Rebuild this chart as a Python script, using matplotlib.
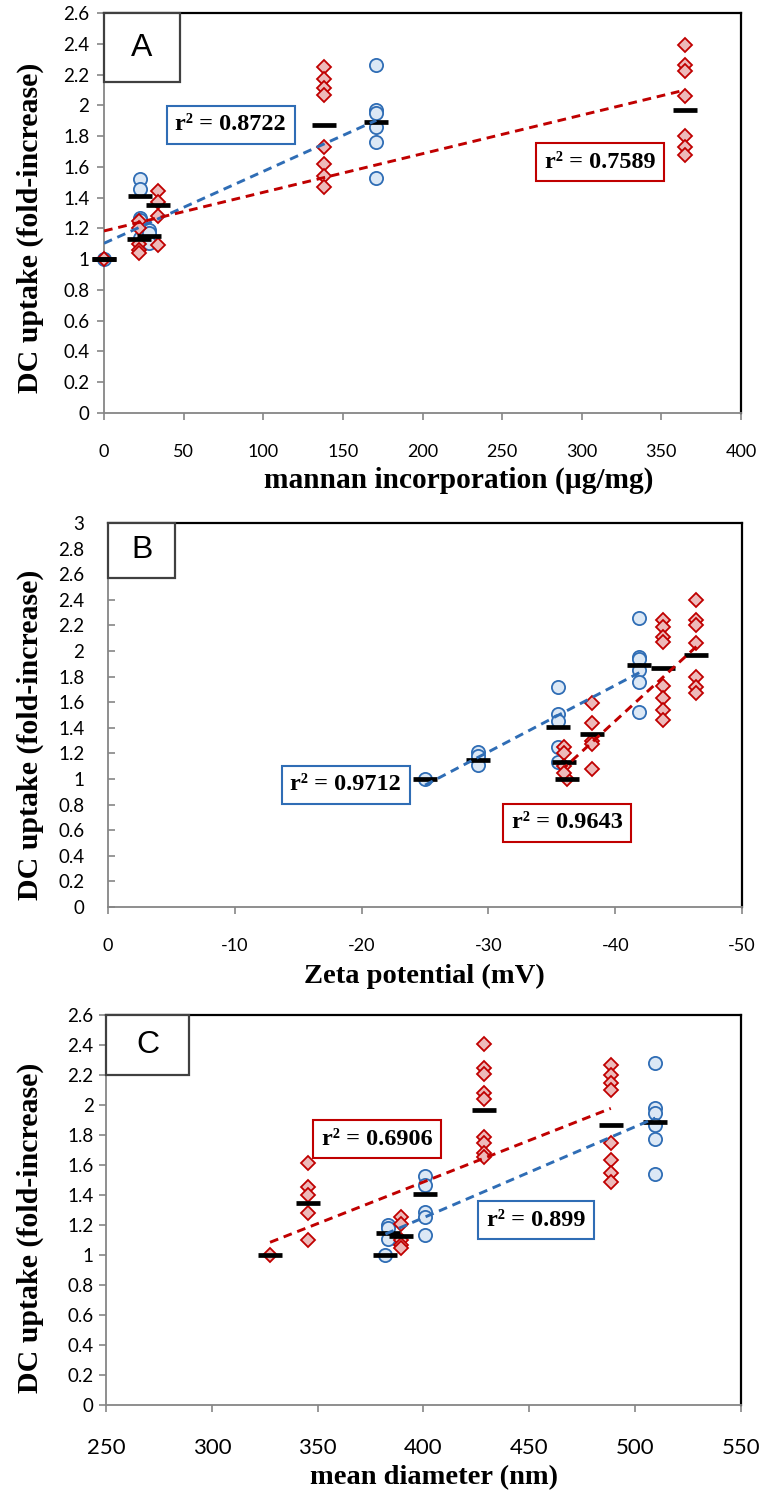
import matplotlib

matplotlib.use("Agg")
import matplotlib.pyplot as plt
import numpy as np
from matplotlib.patches import Rectangle
from matplotlib.ticker import FuncFormatter, MultipleLocator

plt.rcParams["font.family"] = ["Lato", "DejaVu Sans"]
plt.rcParams["axes.unicode_minus"] = False

BLUE = "#2F6DB5"
BLUE_FACE = "#DCE8F5"
RED = "#C00000"
RED_FACE = "#EDBABA"
GREY = "#868686"

# ---- panel A: mannan incorporation (ug/mg) ----
A_BLUE_X = [0, 22.6, 28.5, 171]
A_BLUE_Y = [[1.0], [1.52, 1.455, 1.27, 1.255, 1.136], [1.19, 1.17, 1.107],
            [2.26, 1.97, 1.95, 1.86, 1.76, 1.53]]
A_BLUE_MEAN = [1.0, 1.41, 1.15, 1.89]
A_RED_X = [0, 22, 34, 138, 365]
A_RED_Y = [[1.0], [1.25, 1.2, 1.1, 1.06, 1.04], [1.44, 1.37, 1.28, 1.09],
           [2.25, 2.17, 2.11, 2.07, 1.73, 1.62, 1.54, 1.47],
           [2.39, 2.26, 2.22, 2.06, 1.80, 1.73, 1.68]]
A_RED_MEAN = [1.0, 1.13, 1.35, 1.87, 1.97]
A_R2 = ["0.8722", "0.7589"]

# ---- panel B: zeta potential (mV) ----
B_BLUE_X = [-25.0, -29.2, -35.5, -41.9]
B_BLUE_Y = [[1.0], [1.21, 1.18, 1.11], [1.72, 1.51, 1.45, 1.25, 1.135],
            [2.255, 1.955, 1.94, 1.85, 1.76, 1.52]]
B_BLUE_MEAN = [1.0, 1.15, 1.41, 1.89]
B_RED_X = [-36.2, -36.0, -38.2, -43.8, -46.4]
B_RED_Y = [[1.0], [1.25, 1.20, 1.10, 1.045], [1.59, 1.44, 1.30, 1.27, 1.08],
           [2.24, 2.185, 2.11, 2.07, 1.73, 1.63, 1.54, 1.46],
           [2.40, 2.24, 2.20, 2.06, 1.80, 1.72, 1.67]]
B_RED_MEAN = [1.0, 1.13, 1.35, 1.87, 1.97]
B_R2 = ["0.9712", "0.9643"]

# ---- panel C: mean diameter (nm) ----
C_BLUE_X = [382, 383, 400.5, 509.5]
C_BLUE_Y = [[1.0], [1.20, 1.178, 1.11], [1.527, 1.467, 1.289, 1.255, 1.133],
            [2.278, 1.978, 1.95, 1.867, 1.771, 1.54]]
C_BLUE_MEAN = [1.0, 1.15, 1.41, 1.89]
C_RED_X = [327.5, 345.5, 389.5, 428.5, 488.5]
C_RED_Y = [[1.0], [1.615, 1.455, 1.40, 1.278, 1.10], [1.255, 1.21, 1.10, 1.067, 1.047],
           [2.41, 2.25, 2.21, 2.08, 2.04, 1.79, 1.745, 1.68, 1.655],
           [2.267, 2.2, 2.144, 2.1, 1.745, 1.633, 1.545, 1.489]]
C_RED_MEAN = [1.0, 1.35, 1.13, 1.97, 1.87]
C_R2 = ["0.899", "0.6906"]

YLABEL = "DC uptake (fold-increase)"
XLABELS = ["mannan incorporation (µg/mg)", "Zeta potential (mV)", "mean diameter (nm)"]

W, H = 759, 1491
fig = plt.figure(figsize=(W / 100, H / 100), dpi=100)


def px_axes(left, top, right, bottom):
    return fig.add_axes([left / W, 1 - bottom / H, (right - left) / W, (bottom - top) / H])


def groups(ax, xs, ys, marker, ms, face, edge):
    gx = np.concatenate([np.full(len(g), x) for x, g in zip(xs, ys)])
    gy = np.concatenate(ys)
    ax.plot(gx, gy, ls="none", marker=marker, ms=ms, mfc=face, mec=edge, mew=1.3,
            clip_on=False, zorder=3)


def means(ax, xs, m):
    ax.plot(xs, m, ls="none", marker="_", ms=17, mew=3.4, color="black",
            clip_on=False, zorder=4)


def trend(ax, xs, m, color):
    coef = np.polyfit(xs, m, 1)
    xx = np.array([min(xs), max(xs)])
    ax.plot(xx, np.polyval(coef, xx), ls=(0, (3, 2)), lw=2.1, color=color, zorder=5)


def r2_box(ax, pos, value, color):
    ax.text(pos[0], pos[1], f"r² = {value}", transform=ax.transAxes, ha="center", va="center",
            family="Liberation Serif", weight="bold", fontsize=17.5, zorder=7,
            bbox=dict(boxstyle="square,pad=0.36", fc="white", ec=color, lw=1.5))


def letter_box(ax, letter, w, h):
    ax.add_patch(Rectangle((0, 1 - h), w, h, transform=ax.transAxes, fc="white",
                           ec="#404040", lw=1.6, zorder=6, clip_on=False))
    ax.text(w / 2, 1 - h / 2, letter, transform=ax.transAxes, ha="center", va="center",
            family="Liberation Sans", fontsize=23, zorder=7)


def style(ax, xlim, xstep, ylim, ydir, xpad, xsize, ypad):
    ax.set_xlim(*xlim)
    ax.set_ylim(*ylim)
    ax.xaxis.set_major_locator(MultipleLocator(xstep))
    ax.yaxis.set_major_locator(MultipleLocator(0.2))
    ax.yaxis.set_major_formatter(FuncFormatter(lambda v, p: f"{v:g}"))
    ax.xaxis.set_major_formatter(FuncFormatter(lambda v, p: f"{v:g}"))
    for s in ("top", "right"):
        ax.spines[s].set_color("black")
        ax.spines[s].set_linewidth(1.6)
    for s in ("left", "bottom"):
        ax.spines[s].set_color(GREY)
        ax.spines[s].set_linewidth(1.3)
    ax.tick_params(axis="x", direction="out", length=5, width=1.2, color=GREY,
                   labelsize=xsize, pad=xpad)
    ax.tick_params(axis="y", direction=ydir, length=5, width=1.2, color=GREY,
                   labelsize=13.5, pad=ypad)


def labels(ax, xlabel, xl_pos, yl_pos, xsize):
    ax.text(xl_pos[0], xl_pos[1], xlabel, transform=ax.transAxes, ha="center", va="center",
            family="Liberation Serif", weight="bold", fontsize=xsize)
    ax.text(yl_pos[0], yl_pos[1], YLABEL, transform=ax.transAxes, ha="center", va="center",
            rotation=90, family="Liberation Serif", weight="bold", fontsize=21.5)


# panel A
ax = px_axes(104, 13, 741, 413)
style(ax, (0, 400), 50, (0, 2.6), "out", 17, 13, 5.5)
groups(ax, A_BLUE_X, A_BLUE_Y, "o", 9.5, BLUE_FACE, BLUE)
groups(ax, A_RED_X, A_RED_Y, "D", 7.3, RED_FACE, RED)
means(ax, A_BLUE_X, A_BLUE_MEAN)
means(ax, A_RED_X, A_RED_MEAN)
trend(ax, A_BLUE_X, A_BLUE_MEAN, BLUE)
trend(ax, A_RED_X, A_RED_MEAN, RED)
r2_box(ax, (0.199, 0.72), A_R2[0], BLUE)
r2_box(ax, (0.779, 0.6275), A_R2[1], RED)
letter_box(ax, "A", 0.119, 0.1725)
labels(ax, XLABELS[0], (0.557, -0.1675), (-0.116, 0.4625), 21.2)

# panel B (x axis runs from 0 down to -50)
ax = px_axes(108, 523, 742, 907)
style(ax, (0, -50), 10, (0, 3), "in", 17, 13, 17)
groups(ax, B_BLUE_X, B_BLUE_Y, "o", 9.5, BLUE_FACE, BLUE)
groups(ax, B_RED_X, B_RED_Y, "D", 7.3, RED_FACE, RED)
means(ax, B_BLUE_X, B_BLUE_MEAN)
means(ax, B_RED_X, B_RED_MEAN)
trend(ax, B_BLUE_X, B_BLUE_MEAN, BLUE)
trend(ax, B_RED_X, B_RED_MEAN, RED)
r2_box(ax, (0.375, 0.318), B_R2[0], BLUE)
r2_box(ax, (0.724, 0.219), B_R2[1], RED)
letter_box(ax, "B", 0.106, 0.143)
labels(ax, XLABELS[1], (0.499, -0.1815), (-0.122, 0.448), 20.5)

# panel C
ax = px_axes(106, 1015, 741, 1405)
style(ax, (250, 550), 50, (0, 2.6), "out", 19, 16, 4)
groups(ax, C_BLUE_X, C_BLUE_Y, "o", 9.5, BLUE_FACE, BLUE)
groups(ax, C_RED_X, C_RED_Y, "D", 7.3, RED_FACE, RED)
means(ax, C_BLUE_X, C_BLUE_MEAN)
means(ax, C_RED_X, C_RED_MEAN)
trend(ax, C_BLUE_X, C_BLUE_MEAN, BLUE)
trend(ax, C_RED_X, C_RED_MEAN, RED)
r2_box(ax, (0.677, 0.474), C_R2[0], BLUE)
r2_box(ax, (0.427, 0.682), C_R2[1], RED)
letter_box(ax, "C", 0.131, 0.154)
labels(ax, XLABELS[2], (0.517, -0.187), (-0.119, 0.454), 20.5)

fig.savefig("out.png", dpi=100)
